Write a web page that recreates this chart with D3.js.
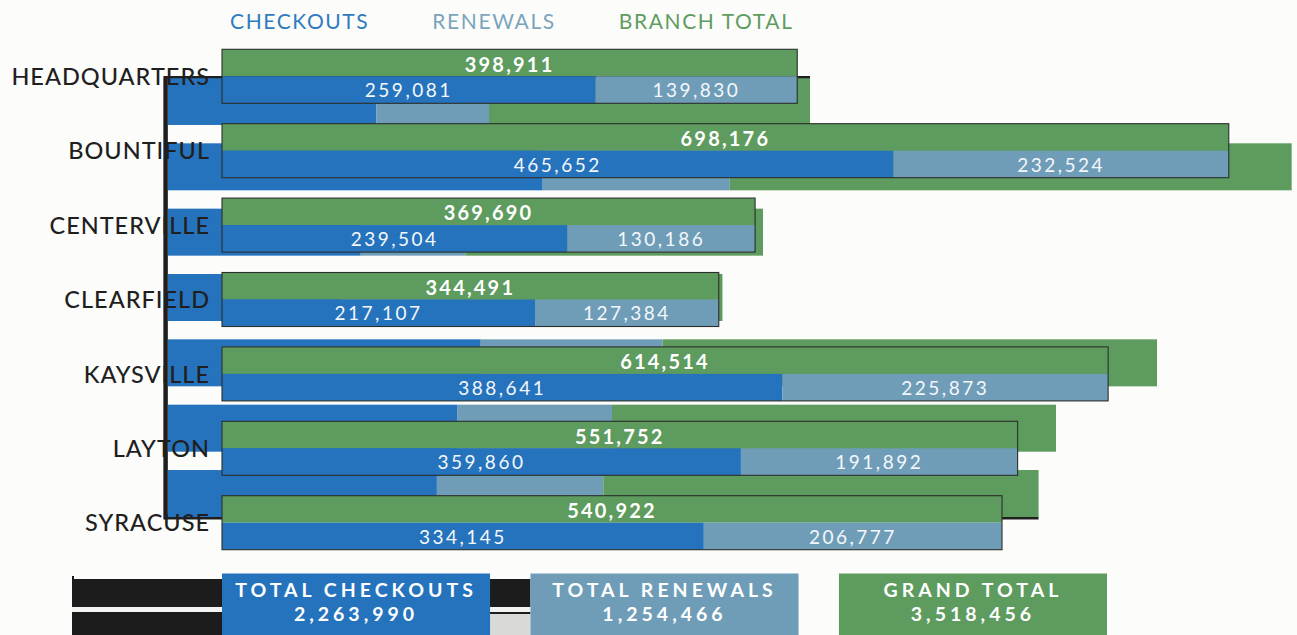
<!DOCTYPE html>
<html>
<head>
<meta charset="utf-8">
<script src="https://cdn.jsdelivr.net/npm/d3@7"></script>
<style>
  html, body { margin: 0; padding: 0; background: #fcfcfb; }
  svg { display: block; font-family: Lato, "Noto Sans", sans-serif; }
</style>
</head>
<body>
<svg id="chart" width="1297" height="635"></svg>
<script>
// ---- data ----
const branches = ["HEADQUARTERS", "BOUNTIFUL", "CENTERVILLE", "CLEARFIELD", "KAYSVILLE", "LAYTON", "SYRACUSE"];
const checkouts = [259081, 465652, 239504, 217107, 388641, 359860, 334145];
const renewals = [139830, 232524, 130186, 127384, 225873, 191892, 206777];
const branchTotals = [398911, 698176, 369690, 344491, 614514, 551752, 540922];
const legendLabels = ["CHECKOUTS", "RENEWALS", "BRANCH TOTAL"];
const summaryLabels = ["TOTAL CHECKOUTS", "TOTAL RENEWALS", "GRAND TOTAL"];
const summaryValues = [2263990, 1254466, 3518456];

const keys = ["checkouts", "renewals", "total"];
const fills = { checkouts: "#2673bd", renewals: "#6f9db8", total: "#5e9b5e" };
const legendInk = { checkouts: "#2f7bc0", renewals: "#7aa5bd", total: "#5f9c60" };
const ink = "#1f1f1f";
const fmt = d3.format(",");

const rows = branches.map((b, i) => ({
  branch: b, checkouts: checkouts[i], renewals: renewals[i], total: branchTotals[i]
}));

const svg = d3.select("#chart");

// ---- offset print layer: stacked bars behind the main chart ----
const gx = d3.scaleLinear().domain([0, 1400000]).range([168, 1294.6]);
const gy = d3.scaleBand().domain(branches).range([68.8, 526.2])
  .paddingInner(0.2806).paddingOuter(0.1403);
const stacked = d3.stack().keys(keys)(rows);

const back = svg.append("g").attr("class", "offset-layer");
back.selectAll("g.layer").data(stacked).join("g")
  .attr("class", "layer")
  .attr("fill", d => fills[d.key])
  .selectAll("rect").data(d => d).join("rect")
  .attr("x", d => gx(d[0]))
  .attr("width", d => gx(d[1]) - gx(d[0]))
  .attr("y", d => gy(d.data.branch))
  .attr("height", gy.bandwidth());

const firstEnd = gx(stacked[2][0][1]);
const lastEnd = gx(stacked[2][rows.length - 1][1]);
const gTop = gy(branches[0]) - 0.8;
const gBot = gy(branches[branches.length - 1]) + gy.bandwidth() + 1.2;
back.append("line").attr("x1", 165.6).attr("x2", 165.6)
  .attr("y1", gTop - 1).attr("y2", gBot + 1)
  .attr("stroke", ink).attr("stroke-width", 4.5);
back.append("line").attr("x1", 164).attr("x2", firstEnd)
  .attr("y1", gTop).attr("y2", gTop)
  .attr("stroke", ink).attr("stroke-width", 2.4);
back.append("line").attr("x1", 164).attr("x2", lastEnd)
  .attr("y1", gBot).attr("y2", gBot)
  .attr("stroke", ink).attr("stroke-width", 2.4);

// ---- summary boxes scale (also anchors the dark band behind them) ----
const sx = d3.scaleBand().domain(summaryLabels).range([222, 1107]).paddingInner(0.131);
const boxTop = 573.5;

// dark band with a white rule behind the first two summary boxes
const bandL = 72, bandR = sx(summaryLabels[1]);
const bandMid = sx(summaryLabels[0]) + sx.bandwidth();
back.append("rect").attr("x", bandL).attr("y", 579).attr("width", bandR - bandL).attr("height", 28).attr("fill", "#1c1c1c");
back.append("rect").attr("x", bandL).attr("y", 612).attr("width", bandMid - bandL).attr("height", 23).attr("fill", "#1c1c1c");
back.append("rect").attr("x", bandMid).attr("y", 612).attr("width", bandR - bandMid).attr("height", 2).attr("fill", "#1c1c1c");
back.append("rect").attr("x", bandMid).attr("y", 614).attr("width", bandR - bandMid).attr("height", 21).attr("fill", "#d9d9d7");
back.append("rect").attr("x", bandL).attr("y", 607).attr("width", bandR - bandL).attr("height", 5).attr("fill", "#f4f4f2");
back.append("rect").attr("x", bandL).attr("y", 576).attr("width", 2).attr("height", 4).attr("fill", "#1c1c1c");

// ---- branch names ----
const x = d3.scaleLinear().domain([0, 700000]).range([222, 1231.4]);
const y = d3.scaleBand().domain(branches).range([39.1, 559.9])
  .paddingInner(0.274).paddingOuter(0.137);
const bw = y.bandwidth();

svg.append("g").selectAll("text").data(branches).join("text")
  .attr("x", 210)
  .attr("y", d => y(d) + 35.7)
  .attr("text-anchor", "end")
  .attr("font-size", 23.5)
  .attr("font-weight", 500)
  .attr("letter-spacing", 1.0)
  .attr("fill", ink)
  .text(d => d);

// ---- legend ----
const legend = svg.append("g");
let lx = 230;
legendLabels.forEach((lab, i) => {
  const t = legend.append("text")
    .attr("x", lx).attr("y", 29)
    .attr("font-size", 21)
    .attr("letter-spacing", 1.6)
    .attr("fill", legendInk[keys[i]])
    .text(lab);
  lx += t.node().getComputedTextLength() + 63;
});

// ---- main bars ----
const bars = svg.append("g").selectAll("g.row").data(rows).join("g")
  .attr("class", "row")
  .attr("transform", d => `translate(0,${y(d.branch)})`);

bars.append("rect").attr("fill", fills.total)
  .attr("x", x(0)).attr("y", 0)
  .attr("width", d => x(d.total) - x(0)).attr("height", bw / 2);
bars.append("rect").attr("fill", fills.checkouts)
  .attr("x", x(0)).attr("y", bw / 2)
  .attr("width", d => x(d.checkouts) - x(0)).attr("height", bw / 2);
bars.append("rect").attr("fill", fills.renewals)
  .attr("x", d => x(d.checkouts)).attr("y", bw / 2)
  .attr("width", d => x(d.checkouts + d.renewals) - x(d.checkouts)).attr("height", bw / 2);
bars.append("rect").attr("fill", "none")
  .attr("stroke", "#2b2f2b").attr("stroke-width", 1.1)
  .attr("x", x(0)).attr("y", 0)
  .attr("width", d => x(d.total) - x(0)).attr("height", bw);

bars.append("text")
  .attr("x", d => (x(0) + x(d.total)) / 2).attr("y", 22.4)
  .attr("text-anchor", "middle").attr("font-size", 20).attr("font-weight", 700)
  .attr("letter-spacing", 2.2).attr("fill", "#ffffff")
  .text(d => fmt(d.total));
bars.append("text")
  .attr("x", d => (x(0) + x(d.checkouts)) / 2).attr("y", 48)
  .attr("text-anchor", "middle").attr("font-size", 19)
  .attr("letter-spacing", 2.5).attr("fill", "#f4f7fb")
  .text(d => fmt(d.checkouts));
bars.append("text")
  .attr("x", d => (x(d.checkouts) + x(d.checkouts + d.renewals)) / 2).attr("y", 48)
  .attr("text-anchor", "middle").attr("font-size", 19)
  .attr("letter-spacing", 2.5).attr("fill", "#f4f7fb")
  .text(d => fmt(d.renewals));

// ---- summary boxes ----
const boxes = svg.append("g").selectAll("g.box").data(summaryLabels).join("g")
  .attr("class", "box")
  .attr("transform", d => `translate(${sx(d)},${boxTop})`);
boxes.append("rect")
  .attr("width", sx.bandwidth()).attr("height", 635 - boxTop + 2)
  .attr("fill", (d, i) => fills[keys[i]]);
boxes.append("text")
  .attr("x", sx.bandwidth() / 2).attr("y", 23)
  .attr("text-anchor", "middle").attr("font-size", 19.5).attr("font-weight", 700)
  .attr("letter-spacing", 4.0).attr("fill", "#ffffff")
  .text(d => d);
boxes.append("text")
  .attr("x", sx.bandwidth() / 2).attr("y", 47)
  .attr("text-anchor", "middle").attr("font-size", 19.5).attr("font-weight", 700)
  .attr("letter-spacing", 4.0).attr("fill", "#ffffff")
  .text((d, i) => fmt(summaryValues[i]));
</script>
</body>
</html>
